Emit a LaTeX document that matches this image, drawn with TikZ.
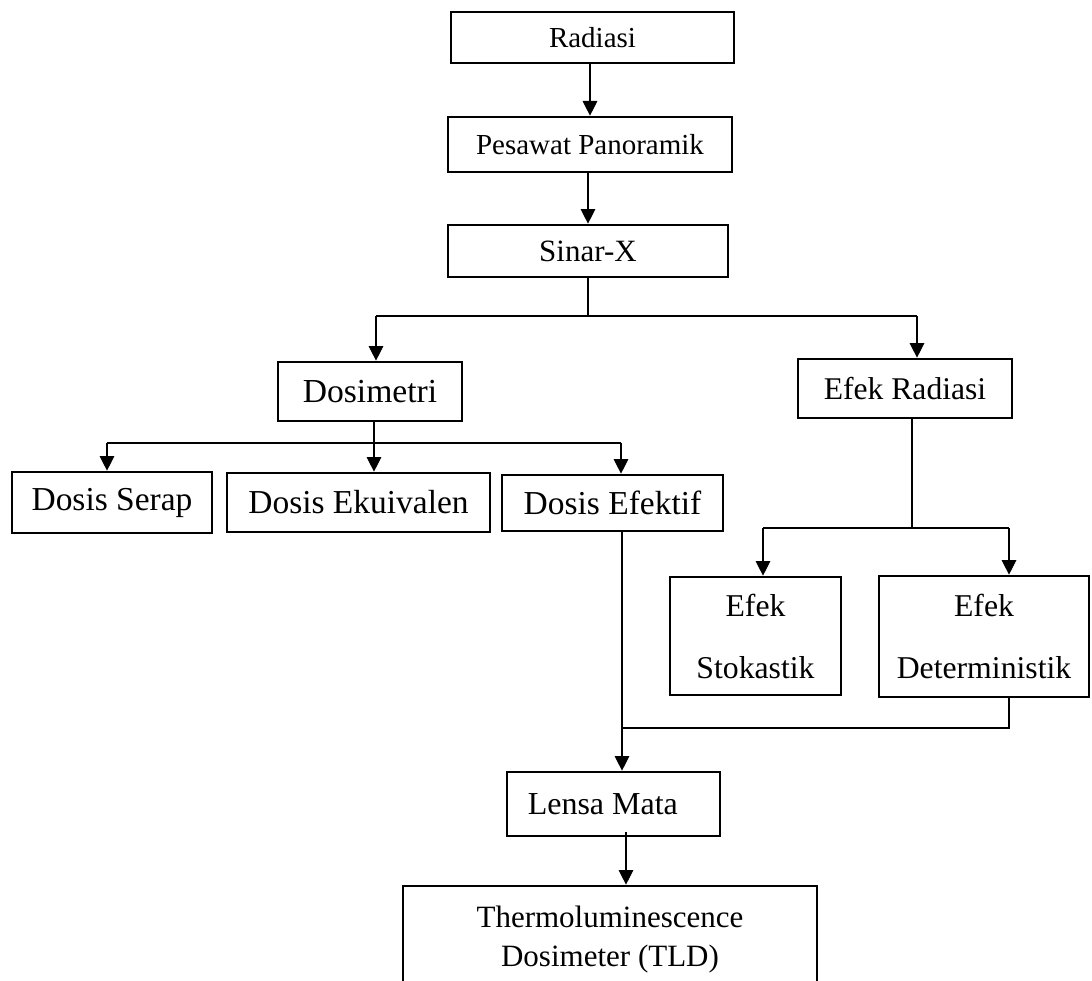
\documentclass[tikz,border=0pt]{standalone}
\usepackage{fontspec}
\setmainfont{Liberation Serif}
\usetikzlibrary{arrows.meta}
\begin{document}
\begin{tikzpicture}[x=0.75pt,y=-0.75pt,
 box/.style={draw, line width=2pt, inner sep=0pt, align=center},
 conn/.style={line width=0.9pt},
 arr/.style={conn, -{Triangle[length=11pt,width=11pt]}},
]
\useasboundingbox (0,0) rectangle (1092,981);
\clip (0,0) rectangle (1092,981);
\node[box, minimum width=212.25pt, minimum height=38.25pt, font=\fontsize{21.75}{26}\selectfont] (rad) at (592.5,37.5) {Radiasi};
\node[box, minimum width=213pt, minimum height=41.25pt, font=\fontsize{21.75}{26}\selectfont] (pes) at (590,144.5) {Pesawat Panoramik};
\node[box, minimum width=210pt, minimum height=39pt, font=\fontsize{23.25}{28}\selectfont] (sin) at (588,251) {Sinar-X};
\node[box, minimum width=138pt, minimum height=44.25pt, font=\fontsize{25.2}{30}\selectfont] (dos) at (370,391.5) {Dosimetri};
\node[box, minimum width=160.5pt, minimum height=44.25pt, font=\fontsize{23.7}{28}\selectfont] (efr) at (905,388.5) {Efek Radiasi};
\node[box, minimum width=150pt, minimum height=45.75pt, font=\fontsize{25.1}{30}\selectfont] (ser) at (112,502.5) {Dosis Serap};
\node[box, minimum width=197.25pt, minimum height=44.25pt, font=\fontsize{25.1}{30}\selectfont] (eku) at (358.5,502.5) {Dosis Ekuivalen};
\node[box, minimum width=165.75pt, minimum height=42pt, font=\fontsize{25.1}{30}\selectfont] (eft) at (612.5,503) {Dosis Efektif};
\node[box, minimum width=128.25pt, minimum height=88.5pt, font=\fontsize{23.8}{46.5}\selectfont] (sto) at (755.5,636) {Efek\\Stokastik};
\node[box, minimum width=157.5pt, minimum height=90.75pt, font=\fontsize{23.8}{46.5}\selectfont] (det) at (984,636.5) {Efek\\Deterministik};
\node[box, minimum width=159.75pt, minimum height=48pt, font=\fontsize{24}{29}\selectfont] (len) at (613.5,804) {Lensa Mata\hspace*{16pt}};
\node[box, minimum width=310.5pt, minimum height=81pt, font=\fontsize{23.25}{29.25}\selectfont] (tld) at (610,940) {Thermoluminescence\\Dosimeter (TLD)};

\draw[arr] (pes.north |- rad.south) -- (pes.north);
\draw[arr] (sin.north |- pes.south) -- (sin.north);

\coordinate (j1) at (588,316);
\coordinate (jL) at (376,316);
\coordinate (jR) at (917,316);
\draw[conn] (sin.south) -- (j1);
\draw[conn] (jL) -- (jR);
\draw[arr] (jL) -- (jL |- dos.north);
\draw[arr] (jR) -- (jR |- efr.north);

\coordinate (k1) at (374,443);
\coordinate (kL) at (107,443);
\coordinate (kR) at (621,443);
\draw[conn] (k1 |- dos.south) -- (k1);
\draw[conn] (kL) -- (kR);
\draw[arr] (kL) -- (kL |- ser.north);
\draw[arr] (k1) -- (k1 |- eku.north);
\draw[arr] (kR) -- (kR |- eft.north);

\coordinate (m1) at (912,528);
\coordinate (mL) at (763,528);
\coordinate (mR) at (1009,528);
\draw[conn] (m1 |- efr.south) -- (m1);
\draw[conn] (mL) -- (mR);
\draw[arr] (mL) -- (mL |- sto.north);
\draw[arr] (mR) -- (mR |- det.north);

\coordinate (n1) at (622,728);
\coordinate (nR) at (1009,728);
\draw[conn] (nR |- det.south) -- (nR) -- (n1);
\draw[arr] (n1 |- eft.south) -- (n1 |- len.north);

\coordinate (p1) at (626,832);
\draw[arr] (p1) -- (p1 |- tld.north);
\end{tikzpicture}
\end{document}
